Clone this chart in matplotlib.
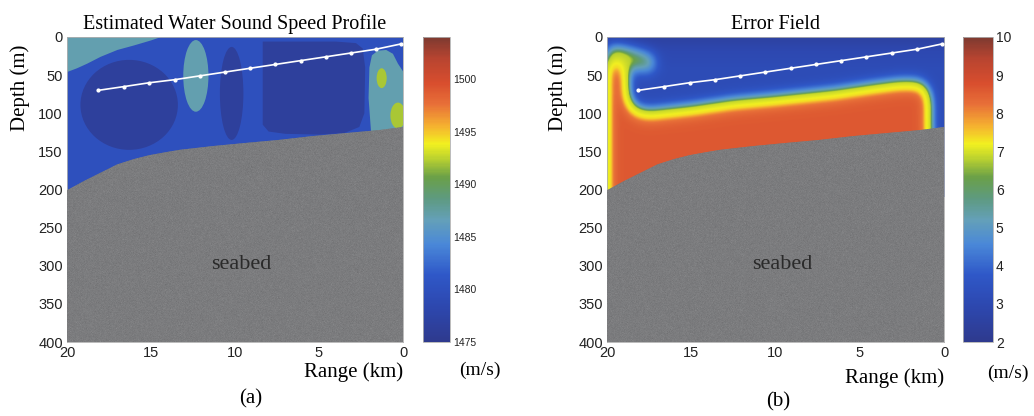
import numpy as np
import matplotlib
matplotlib.use("Agg")
import matplotlib.pyplot as plt
from matplotlib.colors import LinearSegmentedColormap, Normalize
from matplotlib.patches import Polygon, Ellipse
from matplotlib.path import Path
from matplotlib.cm import ScalarMappable


SERIF = "Liberation Serif"
SANS = "Liberation Sans"

# seabed profile (range km, depth m)
seabed_range = [0, 1.4, 3.4, 5.4, 7.4, 9.4, 11.3, 13.3, 14.1, 15.1, 16.0, 17.0, 18.0, 19.0, 20]
seabed_depth = [118, 122, 126, 130, 135, 139, 143, 148, 151, 155, 160, 167, 178, 189, 201]

# towed receiver track
track_range = [18.15, 16.6, 15.1, 13.6, 12.1, 10.6, 9.1, 7.6, 6.1, 4.6, 3.1, 1.6, 0.1]
track_depth = [70, 65, 60, 56, 51, 46, 41, 36, 31, 26, 21, 16, 9]

# sound speed (m/s)
ssp_min, ssp_max = 1475, 1504
ssp_ticks = [1475, 1480, 1485, 1490, 1495, 1500]
ssp_background = 1480.0

warm_top_range = [20, 20, 19.4, 18.8, 18.0, 17.0, 16.0, 15.0, 14.4]
warm_top_depth = [0, 46, 41, 35, 26, 17, 11, 4.5, 0]
warm_top_speed = 1487.0

cold_block_range = [8.35, 8.35, 8.0, 7.0, 5.0, 3.5, 2.6, 2.3, 2.25, 2.4, 2.8, 4.0]
cold_block_depth = [6, 115, 124, 127, 128, 126, 118, 100, 40, 15, 8, 6]
cold_block_speed = 1476.5

coastal_range = [1.0, 1.5, 1.85, 2.0, 2.05, 1.95, 1.9, 0.0, 0.0, 0.3, 0.6]
coastal_depth = [17, 18, 24, 40, 80, 110, 125, 125, 45, 35, 22]
coastal_speed = 1487.0

eddy_range = [16.3, 12.33, 10.2, 1.27, 0.3]
eddy_depth = [89, 51, 74, 54, 103]
eddy_width = [5.8, 1.5, 1.4, 0.6, 0.9]
eddy_height = [118, 94, 122, 26, 34]
eddy_speed = [1476.5, 1487.0, 1476.5, 1492.0, 1492.0]

# error field (m/s)
err_min, err_max = 2, 10
err_ticks = [2, 3, 4, 5, 6, 7, 8, 9, 10]
err_core_range = [20, 20, 19.6, 19.1, 18.95, 18.9, 18.6, 18.1, 17.5, 15.0, 12.5,
                  10.0, 6.5, 4.0, 2.6, 1.7, 1.2, 1.0, 0.95, 0.95]
err_core_depth = [210, 36, 35, 38, 50, 80, 95, 101, 103, 97, 89,
                  84, 76, 68, 64, 64, 68, 80, 130, 210]
err_patch_range = [20, 19.0, 18.0, 17.3, 17.05, 17.5, 18.5, 20]
err_patch_depth = [12, 15, 22, 28, 36, 43, 41, 41]
err_patch_weight = 0.42
err_levels = [0, 0.06, 0.16, 0.26, 0.35, 0.52, 0.7, 0.85, 1.0]
err_values = [3.3, 3.9, 4.8, 5.7, 6.95, 7.15, 7.4, 8.2, 8.6]
err_surface_depth = [0, 20, 45]
err_surface_value = [2.5, 3.0, 3.2]

cmap = LinearSegmentedColormap.from_list("ocean_jet", [
    (0.00, "#2e3a8e"), (0.12, "#2d48b0"), (0.22, "#2f58c8"), (0.32, "#4a88d8"),
    (0.40, "#64a0b8"), (0.47, "#5e9a80"), (0.54, "#6aa048"), (0.60, "#b8d030"),
    (0.65, "#f2f020"), (0.71, "#f5b030"), (0.78, "#e87038"), (0.85, "#d84e2e"),
    (0.93, "#b84430"), (1.00, "#7e3a30"),
])


def smooth(a, sig_rows, sig_cols):
    for axis, sig in ((0, sig_rows), (1, sig_cols)):
        n = int(3 * sig)
        k = np.exp(-0.5 * (np.arange(-n, n + 1) / sig) ** 2)
        k /= k.sum()
        a = np.apply_along_axis(
            lambda v: np.convolve(np.pad(v, n, mode="edge"), k, mode="valid"), axis, a)
    return a


def style_axes(ax, title):
    ax.set_xlim(20, 0)
    ax.set_ylim(400, 0)
    ax.set_xticks([20, 15, 10, 5, 0])
    ax.set_yticks(range(0, 401, 50))
    ax.tick_params(length=0, pad=3, labelsize=10.5, labelcolor="#222222")
    for lab in ax.get_xticklabels() + ax.get_yticklabels():
        lab.set_fontfamily(SANS)
    for sp in ax.spines.values():
        sp.set_edgecolor("#b0b0b0")
        sp.set_linewidth(0.6)
    ax.set_title(title, fontfamily=SERIF, fontsize=14.5, pad=6)


def draw_seabed(ax, rng):
    verts = list(zip(seabed_range, seabed_depth)) + [(20, 400), (0, 400)]
    poly = Polygon(verts, closed=True, transform=ax.transData,
                   facecolor="#76777c", edgecolor="none", zorder=5)
    ax.add_patch(poly)
    grain = 0.02 * rng.standard_normal((310, 340))
    im = ax.imshow(grain, extent=(0, 20, 400, 0), cmap="gray", vmin=-0.5, vmax=0.5,
                   alpha=0.6, aspect="auto", interpolation="nearest", zorder=6)
    im.set_clip_path(poly)
    ax.text(9.6, 299, "seabed", fontfamily=SERIF, fontsize=16, color="#2a2a2a",
            ha="center", va="center", zorder=7)


def draw_track(ax):
    ax.plot(track_range, track_depth, color="white", lw=1.2, marker="o", ms=2,
            zorder=8)


def add_colorbar(fig, rect, norm, ticks, labelsize):
    cax = fig.add_axes(rect)
    cb = fig.colorbar(ScalarMappable(norm=norm, cmap=cmap), cax=cax, ticks=ticks)
    cb.ax.tick_params(length=0, pad=2, labelsize=labelsize, labelcolor="#222222")
    for lab in cb.ax.get_yticklabels():
        lab.set_fontfamily(SANS)
    cb.outline.set_edgecolor("#b0b0b0")
    cb.outline.set_linewidth(0.6)
    return cb


rng = np.random.default_rng(7)
W, H = 1034, 416
fig = plt.figure(figsize=(W / 100, H / 100), dpi=100)

# (a) sound speed
ssp_norm = Normalize(ssp_min, ssp_max)
ax1 = fig.add_axes([67 / W, 1 - 342 / H, 336 / W, 305 / H])
ax1.set_facecolor(cmap(ssp_norm(ssp_background)))
for xs, ys, val in ((warm_top_range, warm_top_depth, warm_top_speed),
                    (cold_block_range, cold_block_depth, cold_block_speed),
                    (coastal_range, coastal_depth, coastal_speed)):
    ax1.add_patch(Polygon(list(zip(xs, ys)), closed=True,
                          facecolor=cmap(ssp_norm(val)), edgecolor="none", zorder=2))
for r, d, w, h, val in zip(eddy_range, eddy_depth, eddy_width, eddy_height, eddy_speed):
    ax1.add_patch(Ellipse((r, d), w, h, facecolor=cmap(ssp_norm(val)),
                          edgecolor="none", zorder=3))
draw_seabed(ax1, rng)
draw_track(ax1)
style_axes(ax1, "Estimated Water Sound Speed Profile")
add_colorbar(fig, [423 / W, 1 - 342 / H, 27 / W, 305 / H], ssp_norm, ssp_ticks, 7.5)

# (b) error field
err_norm = Normalize(err_min, err_max)
ax2 = fig.add_axes([607 / W, 1 - 342 / H, 337 / W, 305 / H])
rr = np.linspace(0, 20, 401)
dd = np.linspace(0, 210, 421)
R, D = np.meshgrid(rr, dd)
pts = np.column_stack([R.ravel(), D.ravel()])
core = Path(np.column_stack([err_core_range, err_core_depth]))
patch = Path(np.column_stack([err_patch_range, err_patch_depth]))
s = core.contains_points(pts).reshape(R.shape).astype(float)
s = np.maximum(s, err_patch_weight * patch.contains_points(pts).reshape(R.shape))
s = smooth(s, 20, 7)
base = np.interp(D, err_surface_depth, err_surface_value)
field = np.interp(s, err_levels, err_values) + (base - err_values[0]) * (1 - s)
ax2.imshow(field, extent=(0, 20, 210, 0), origin="upper", cmap=cmap, norm=err_norm,
           aspect="auto", interpolation="bilinear", zorder=1)
draw_seabed(ax2, rng)
draw_track(ax2)
style_axes(ax2, "Error Field")
add_colorbar(fig, [963 / W, 1 - 342 / H, 30 / W, 305 / H], err_norm, err_ticks, 10)

# labels
for x in (20, 558):
    fig.text(x / W, 1 - 88 / H, "Depth (m)", rotation=90, fontfamily=SERIF,
             fontsize=15, ha="center", va="center")
fig.text(403 / W, 1 - 372 / H, "Range (km)", fontfamily=SERIF, fontsize=15,
         ha="right", va="center")
fig.text(944 / W, 1 - 378 / H, "Range (km)", fontfamily=SERIF, fontsize=15,
         ha="right", va="center")
fig.text(480 / W, 1 - 370 / H, "(m/s)", fontfamily=SERIF, fontsize=14,
         ha="center", va="center")
fig.text(1008 / W, 1 - 373 / H, "(m/s)", fontfamily=SERIF, fontsize=14,
         ha="center", va="center")
fig.text(251 / W, 1 - 399 / H, "(a)", fontfamily=SERIF, fontsize=15,
         ha="center", va="center")
fig.text(778 / W, 1 - 402 / H, "(b)", fontfamily=SERIF, fontsize=15,
         ha="center", va="center")

fig.savefig("out.png", dpi=100)
